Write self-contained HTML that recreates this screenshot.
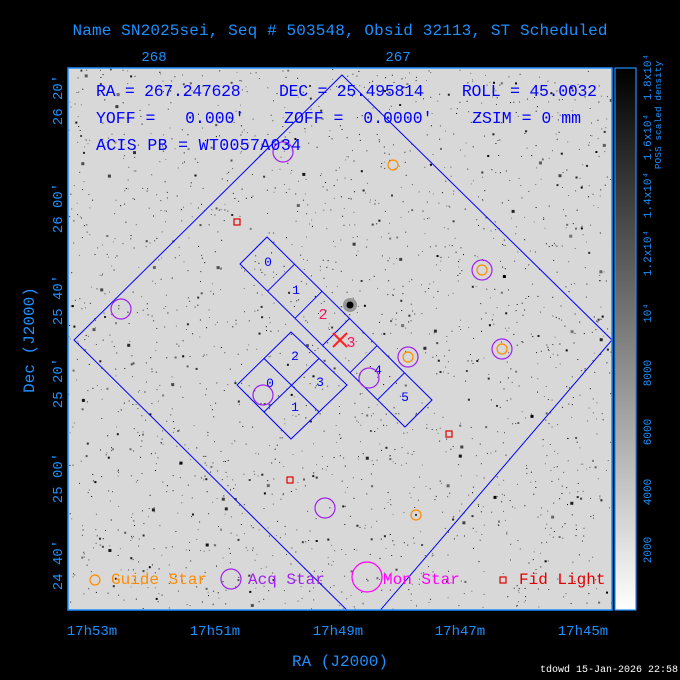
<!DOCTYPE html>
<html><head><meta charset="utf-8"><style>
body{margin:0;background:#000;width:680px;height:680px;overflow:hidden}
svg{display:block}
text{font-family:"Liberation Mono","DejaVu Sans Mono",monospace}
</style></head><body>
<svg id="s" width="680" height="680" xmlns="http://www.w3.org/2000/svg">
<defs>
<linearGradient id="cb" x1="0" y1="1" x2="0" y2="0"><stop offset="0" stop-color="#fff"/><stop offset="1" stop-color="#000"/></linearGradient>
<clipPath id="pc"><rect x="68" y="68" width="544" height="542"/></clipPath>
</defs>
<rect x="68" y="68" width="544" height="542" fill="#d8d8d8"/>
<g id="stars" clip-path="url(#pc)"></g>
<g clip-path="url(#pc)" fill="none" stroke="#0000ff" stroke-width="1">
<circle cx="350" cy="305" r="7" fill="#555" stroke="none" opacity="0.5"/>
<circle cx="350" cy="305" r="3.5" fill="#000" stroke="none"/>
<polygon points="342,75 612,340 365,628 74,340"/>
<polygon points="267,237 432,400 405,427 240,264"/>
<line x1="294.5" y1="264.2" x2="267.5" y2="291.2"/>
<line x1="322" y1="291.3" x2="295" y2="318.3"/>
<line x1="349.5" y1="318.5" x2="322.5" y2="345.5"/>
<line x1="377" y1="345.7" x2="350" y2="372.7"/>
<line x1="404.5" y1="372.8" x2="377.5" y2="399.8"/>
<polygon points="291,332 347,385 291,439 237,385"/>
<line x1="319" y1="358.5" x2="264" y2="412"/>
<line x1="264" y1="358.5" x2="319" y2="412"/>
</g>
<g font-size="13" fill="#0000ff" text-anchor="middle">
<text x="268" y="266">0</text><text x="296" y="294">1</text>
<text x="323" y="319" fill="#ff1060" font-size="15">2</text>
<text x="351" y="347" fill="#ff1060" font-size="15">3</text>
<text x="378" y="374">4</text><text x="405" y="401">5</text>
<text x="295" y="360">2</text><text x="270" y="387">0</text>
<text x="320" y="386">3</text><text x="295" y="411">1</text>
</g>
<g stroke="#ff2020" stroke-width="2"><line x1="333" y1="333" x2="347" y2="347"/><line x1="347" y1="333" x2="333" y2="347"/></g>
<g fill="none" stroke="#a020f0" stroke-width="1.2">
<circle cx="283" cy="152" r="10"/><circle cx="121" cy="309" r="10"/><circle cx="482" cy="270" r="10"/>
<circle cx="502" cy="349" r="10"/><circle cx="408" cy="357" r="10"/><circle cx="369" cy="378" r="10"/>
<circle cx="263" cy="395" r="10"/><circle cx="325" cy="508" r="10"/>
</g>
<g fill="none" stroke="#ff8c00" stroke-width="1.2">
<circle cx="393" cy="165" r="5"/><circle cx="408" cy="357" r="5"/><circle cx="416" cy="515" r="5"/>
<circle cx="482" cy="270" r="5"/><circle cx="502" cy="349" r="5"/>
</g>
<g fill="none" stroke="#e00000" stroke-width="1.2">
<rect x="234" y="219" width="6" height="6"/><rect x="446" y="431" width="6" height="6"/><rect x="287" y="477" width="6" height="6"/>
</g>
<rect x="68" y="68" width="544" height="542" fill="none" stroke="#1e90ff" stroke-width="1.5"/>
<g font-size="16.5" fill="#0000ff">
<text x="96" y="96" xml:space="preserve" textLength="501">RA = 267.247628    DEC = 25.495814    ROLL = 45.0032</text>
<text x="96" y="123" xml:space="preserve" textLength="485">YOFF =   0.000'    ZOFF =  0.0000'    ZSIM = 0 mm</text>
<text x="96" y="150" textLength="205">ACIS PB = WT0057A034</text>
</g>
<g font-size="16">
<circle cx="95" cy="580" r="5" fill="none" stroke="#ff8c00" stroke-width="1.2"/>
<text x="111" y="584" fill="#ff8c00">Guide Star</text>
<circle cx="231" cy="579" r="10" fill="none" stroke="#a020f0" stroke-width="1.2"/>
<text x="248" y="584" fill="#a020f0">Acq Star</text>
<circle cx="367" cy="577" r="15" fill="none" stroke="#ff00ff" stroke-width="1.2"/>
<text x="383" y="584" fill="#ff00ff">Mon Star</text>
<rect x="500" y="577" width="6" height="6" fill="none" stroke="#e00000" stroke-width="1.2"/>
<text x="519" y="584" fill="#e00000">Fid Light</text>
</g>
<g fill="#1e90ff" font-size="16">
<text x="340" y="35" text-anchor="middle" textLength="535">Name SN2025sei, Seq # 503548, Obsid 32113, ST Scheduled</text>
<text x="154" y="61" text-anchor="middle" font-size="14">268</text>
<text x="398" y="61" text-anchor="middle" font-size="14">267</text>
<g text-anchor="middle" font-size="14">
<text x="92" y="635">17h53m</text><text x="215" y="635">17h51m</text><text x="338" y="635">17h49m</text><text x="460" y="635">17h47m</text><text x="583" y="635">17h45m</text>
</g>
<text x="340" y="666" text-anchor="middle" font-size="16">RA (J2000)</text>
<g font-size="14" text-anchor="middle">
<text transform="translate(62,100) rotate(-90)">26 20'</text>
<text transform="translate(62,208) rotate(-90)">26 00'</text>
<text transform="translate(62,300) rotate(-90)">25 40'</text>
<text transform="translate(62,383) rotate(-90)">25 20'</text>
<text transform="translate(62,478) rotate(-90)">25 00'</text>
<text transform="translate(62,565) rotate(-90)">24 40'</text>
</g>
<text transform="translate(34,340) rotate(-90)" text-anchor="middle" font-size="16">Dec (J2000)</text>
</g>
<rect x="615" y="68" width="21" height="542" fill="url(#cb)" stroke="#1e90ff" stroke-width="1.2"/>
<g fill="#1e90ff" font-size="11" text-anchor="middle">
<text transform="translate(651,550) rotate(-90)">2000</text>
<text transform="translate(651,492) rotate(-90)">4000</text>
<text transform="translate(651,432) rotate(-90)">6000</text>
<text transform="translate(651,373) rotate(-90)">8000</text>
<text transform="translate(651,313) rotate(-90)">10⁴</text>
<text transform="translate(651,253) rotate(-90)">1.2x10⁴</text>
<text transform="translate(651,195) rotate(-90)">1.4x10⁴</text>
<text transform="translate(651,137) rotate(-90)">1.6x10⁴</text>
<text transform="translate(651,77) rotate(-90)">1.8x10⁴</text>
<text transform="translate(661,115) rotate(-90)" font-size="9.5">POSS scaled density</text>
</g>
<text x="540" y="672" fill="#fff" font-size="10">tdowd 15-Jan-2026 22:58</text>
</svg>
<script>
var g=document.getElementById('stars'),s=12345,h='';
function r(){s=(s*1103515245+12345)%2147483648;return s/2147483648;}
for(var i=0;i<2200;i++){var x=68+r()*544,y=68+r()*542,v=r(),sz=v<0.9?1:(v<0.98?2:3),c=Math.floor(r()*130);
h+='<rect x="'+x.toFixed(1)+'" y="'+y.toFixed(1)+'" width="'+sz+'" height="'+sz+'" fill="rgb('+c+','+c+','+c+')"/>';}
g.innerHTML=h;
</script>
</body></html>
